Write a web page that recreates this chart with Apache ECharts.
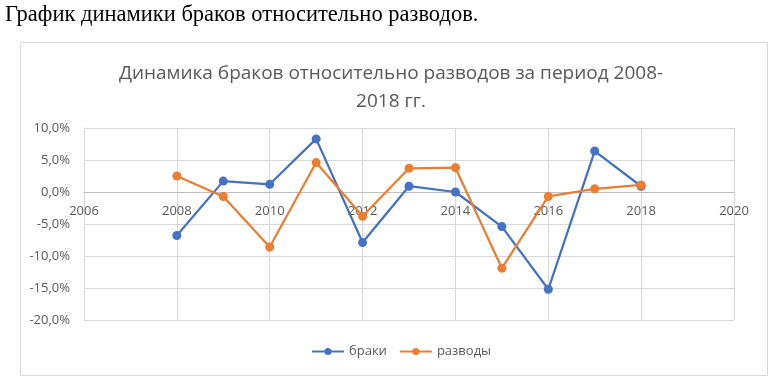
<!DOCTYPE html>
<html><head><meta charset="utf-8">
<script src="https://cdn.jsdelivr.net/npm/echarts@6/dist/echarts.min.js"></script>
<style>html,body{margin:0;padding:0;background:#fff}#c{width:773px;height:385px}</style>
</head><body><div id="c"></div>
<script>
const years = [2008,2009,2010,2011,2012,2013,2014,2015,2016,2017,2018];
const marriages = [-6.8,1.7,1.2,8.3,-7.9,0.9,0.0,-5.4,-15.2,6.4,0.9];
const divorces = [2.5,-0.7,-8.6,4.6,-3.8,3.7,3.8,-11.9,-0.7,0.5,1.1];
const seriesNames = ['браки','разводы'];
const xTicks = {min:2006,max:2020,interval:2};
const yTicks = {min:-20,max:10,interval:5};

const chart = echarts.init(document.getElementById('c'));
const font = 'Open Sans';
chart.setOption({
  animation:false,
  backgroundColor:'#fff',
  graphic:[
    {type:'text',left:5,top:4,style:{text:'График динамики браков относительно разводов.',font:'22.5px "Liberation Serif"',fill:'#000'}},
    {type:'rect',shape:{x:20.5,y:42.5,width:747,height:333},style:{fill:null,stroke:'#d9d9d9',lineWidth:1},silent:true}
  ],
  title:{text:'Динамика браков относительно разводов за период 2008-\n2018 гг.',left:386,textAlign:'center',top:55,
    textStyle:{fontFamily:font,fontSize:19,fontWeight:'normal',color:'#595959',lineHeight:28}},
  legend:{bottom:22,left:306,itemWidth:32,itemHeight:9,itemGap:12,
    textStyle:{fontFamily:font,fontSize:13,color:'#595959'}},
  grid:{left:84,right:39,top:128,bottom:65,containLabel:false},
  xAxis:{type:'value',min:xTicks.min,max:xTicks.max,interval:xTicks.interval,
    axisLine:{onZero:false,lineStyle:{color:'#bfbfbf'}},axisTick:{show:false},offset:-128,
    axisLabel:{fontFamily:font,fontSize:13,color:'#595959',margin:13,formatter:v=>String(v)},
    splitLine:{show:true,lineStyle:{color:'#d9d9d9'}}},
  yAxis:{type:'value',min:yTicks.min,max:yTicks.max,interval:yTicks.interval,
    axisLine:{show:true,lineStyle:{color:'#d9d9d9'}},axisTick:{show:false},
    axisLabel:{fontFamily:font,fontSize:13,color:'#595959',margin:14,formatter:v=>v.toFixed(1).replace('.',',')+'%'},
    splitLine:{show:true,lineStyle:{color:'#d9d9d9'}}},
  series:[
    {name:seriesNames[0],type:'line',data:years.map((y,i)=>[y,marriages[i]]),symbol:'circle',symbolSize:9,
      itemStyle:{color:'#4472C4'},lineStyle:{width:2.25,color:'#4472C4'}},
    {name:seriesNames[1],type:'line',data:years.map((y,i)=>[y,divorces[i]]),symbol:'circle',symbolSize:9,
      itemStyle:{color:'#ED7D31'},lineStyle:{width:2.25,color:'#ED7D31'}}
  ]
});
</script></body></html>
